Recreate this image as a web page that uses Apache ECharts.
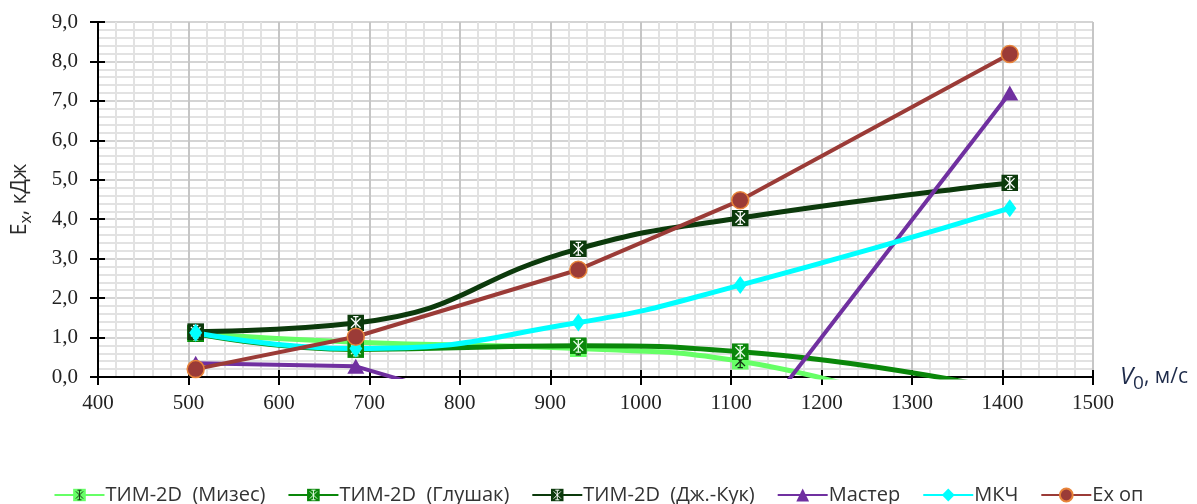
<!DOCTYPE html>
<html>
<head>
<meta charset="utf-8">
<script src="https://cdn.jsdelivr.net/npm/echarts@6/dist/echarts.min.js"></script>
<style>
  html, body { margin: 0; padding: 0; background: #fff; }
  #chart { width: 1197px; height: 504px; }
</style>
</head>
<body>
<div id="chart"></div>
<script>
// Impact velocity, m/s
const velocity = [508, 685, 931, 1110, 1408];

// Energy E_x, kJ, per calculation method
const timMises       = [1.10, 0.88, 0.72, 0.40, -1.60];
const timGlushak     = [1.10, 0.70, 0.79, 0.64, -0.35];
const timJohnsonCook = [1.15, 1.37, 3.25, 4.03, 4.92];
const master         = [0.35, 0.27, -1.39, -1.67, 7.20];
const mkch           = [1.12, 0.72, 1.38, 2.33, 4.28];
const exOp           = [0.20, 1.02, 2.72, 4.48, 8.19];

const seriesNames = ['ТИМ-2D  (Мизес)', 'ТИМ-2D  (Глушак)', 'ТИМ-2D  (Дж.-Кук)', 'Мастер', 'МКЧ', 'Ex оп'];

const xMin = 400, xMax = 1500, xStep = 100;
const yMin = 0, yMax = 9, yStep = 1;

// Square marker with an asterisk inside, built as an inline SVG image
function starBox(fill, stroke) {
  const svg =
    "<svg xmlns='http://www.w3.org/2000/svg' width='32' height='32' viewBox='0 0 16 16'>" +
    "<rect x='0' y='0' width='16' height='16' fill='" + fill + "'/>" +
    "<g stroke='" + stroke + "' stroke-width='1.2' fill='none'>" +
    "<line x1='8' y1='2' x2='8' y2='14'/>" +
    "<line x1='3.5' y1='3.5' x2='12.5' y2='12.5'/>" +
    "<line x1='12.5' y1='3.5' x2='3.5' y2='12.5'/>" +
    "<line x1='5.5' y1='2' x2='10.5' y2='2'/>" +
    "<line x1='5.5' y1='14' x2='10.5' y2='14'/>" +
    "</g></svg>";
  return 'image://data:image/svg+xml;charset=utf-8,' + encodeURIComponent(svg);
}

function pairs(ys) {
  return velocity.map((v, i) => [v, ys[i]]);
}

const lineBase = { type: 'line', clip: true, xAxisIndex: 0, yAxisIndex: 0, animation: false };

const series = [
  Object.assign({}, lineBase, {
    name: seriesNames[0], data: pairs(timMises), smooth: 0.5,
    lineStyle: { color: '#66ff66', width: 5 }, itemStyle: { color: '#66ff66' },
    symbol: starBox('#66ff66', '#143314'), symbolSize: 17
  }),
  Object.assign({}, lineBase, {
    name: seriesNames[1], data: pairs(timGlushak), smooth: 0.5,
    lineStyle: { color: '#0a870a', width: 5 }, itemStyle: { color: '#0a870a' },
    symbol: starBox('#0a870a', '#e8ffe8'), symbolSize: 17
  }),
  Object.assign({}, lineBase, {
    name: seriesNames[2], data: pairs(timJohnsonCook), smooth: 0.5,
    lineStyle: { color: '#0c3a0c', width: 5 }, itemStyle: { color: '#0c3a0c' },
    symbol: starBox('#0c3a0c', '#ffffff'), symbolSize: 17
  }),
  Object.assign({}, lineBase, {
    name: seriesNames[3], data: pairs(master), smooth: false,
    lineStyle: { color: '#7030a0', width: 4 }, itemStyle: { color: '#7030a0' },
    symbol: 'triangle', symbolSize: [17, 15]
  }),
  Object.assign({}, lineBase, {
    name: seriesNames[4], data: pairs(mkch), smooth: 0.5,
    lineStyle: { color: '#00ffff', width: 5 }, itemStyle: { color: '#00ffff' },
    symbol: 'diamond', symbolSize: [13, 18]
  }),
  Object.assign({}, lineBase, {
    name: seriesNames[5], data: pairs(exOp), smooth: false,
    lineStyle: { color: '#9b3b37', width: 4 },
    itemStyle: { color: '#9b3b37', borderColor: '#e8843a', borderWidth: 1.5 },
    symbol: 'circle', symbolSize: 17
  })
];

const labelFont = "'Liberation Serif', 'DejaVu Serif', serif";
const textFont = "'Open Sans', 'Noto Sans', sans-serif";

const chart = echarts.init(document.getElementById('chart'), null, { renderer: 'canvas' });
chart.setOption({
  backgroundColor: '#ffffff',
  animation: false,
  grid: { left: 98, right: 104, top: 22, bottom: 127, containLabel: false },
  legend: {
    data: seriesNames,
    left: 'center',
    top: 480,
    itemWidth: 50,
    itemHeight: 16,
    itemGap: 22,
    textStyle: { fontFamily: textFont, fontSize: 20, color: '#333333', padding: [0, 0, 0, -4] }
  },
  xAxis: [
    {
      type: 'value', position: 'bottom', min: xMin, max: xMax, interval: xStep,
      name: '{i|V}{sub|0}{n|, м/с}',
      nameLocation: 'end', nameGap: 13,
      nameTextStyle: {
        verticalAlign: 'middle', align: 'left',
        rich: {
          i: { fontFamily: textFont, fontStyle: 'italic', fontSize: 24, color: '#1e2b4a' },
          sub: { fontFamily: textFont, fontSize: 19, color: '#1e2b4a', verticalAlign: 'top', padding: [14, 0, 0, 0] },
          n: { fontFamily: textFont, fontSize: 21, color: '#1e2b4a' }
        }
      },
      axisLine: { show: true, onZero: false, lineStyle: { color: '#000', width: 2 } },
      axisTick: { show: true, inside: false, length: 8, lineStyle: { color: '#000', width: 2 } },
      axisLabel: { fontFamily: labelFont, fontSize: 21, color: '#222', margin: 16, formatter: v => String(v) },
      splitLine: { show: true, lineStyle: { color: '#c6c6c6', width: 2 } },
      minorTick: { show: false, splitNumber: 5 },
      minorSplitLine: { show: true, lineStyle: { color: '#e2e2e2', width: 2 } }
    },
    {
      // inner half of the crossing ticks
      type: 'value', position: 'bottom', min: xMin, max: xMax, interval: xStep,
      axisLine: { show: false, onZero: false },
      axisTick: { show: true, inside: true, length: 7, lineStyle: { color: '#000', width: 2 } },
      axisLabel: { show: false },
      splitLine: { show: false }
    }
  ],
  yAxis: [
    {
      type: 'value', position: 'left', min: yMin, max: yMax, interval: yStep,
      name: '{e|E}{sub|x}{n|, кДж}',
      nameLocation: 'middle', nameRotate: 90, nameGap: 64,
      nameTextStyle: {
        rich: {
          e: { fontFamily: textFont, fontSize: 21, color: '#2a2a2a' },
          sub: { fontFamily: textFont, fontSize: 16, color: '#2a2a2a', verticalAlign: 'top', padding: [12, 0, 0, 0] },
          n: { fontFamily: textFont, fontSize: 21, color: '#2a2a2a' }
        }
      },
      axisLine: { show: true, onZero: false, lineStyle: { color: '#000', width: 2 } },
      axisTick: { show: true, inside: false, length: 8, lineStyle: { color: '#000', width: 2 } },
      axisLabel: {
        fontFamily: labelFont, fontSize: 21, color: '#222', margin: 20,
        formatter: v => v.toFixed(1).replace('.', ',')
      },
      splitLine: { show: true, lineStyle: { color: '#d4d4d4', width: 2 } },
      minorTick: { show: false, splitNumber: 5 },
      minorSplitLine: { show: true, lineStyle: { color: '#e2e2e2', width: 2 } }
    },
    {
      type: 'value', position: 'left', min: yMin, max: yMax, interval: yStep,
      axisLine: { show: false, onZero: false },
      axisTick: { show: true, inside: true, length: 7, lineStyle: { color: '#000', width: 2 } },
      axisLabel: { show: false },
      splitLine: { show: false }
    }
  ],
  series: series
});
</script>
</body>
</html>
